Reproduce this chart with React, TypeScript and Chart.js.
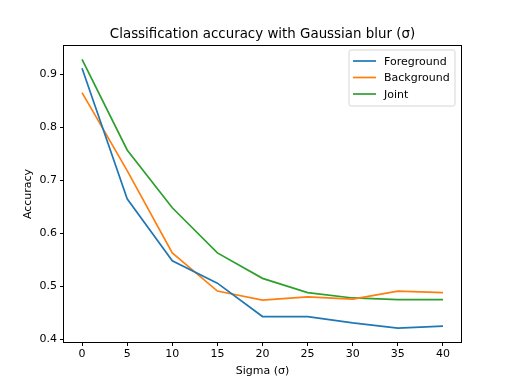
import React, { useEffect, useRef } from "react";
import { Chart, registerables } from "chart.js";

Chart.register(...registerables);

const sigmas = [0, 5, 10, 15, 20, 25, 30, 35, 40];
const foreground = [0.911, 0.665, 0.548, 0.506, 0.443, 0.443, 0.431, 0.421, 0.425];
const background = [0.865, 0.718, 0.563, 0.491, 0.474, 0.48, 0.476, 0.491, 0.488];
const joint = [0.928, 0.757, 0.648, 0.563, 0.515, 0.488, 0.478, 0.475, 0.475];
const xTicks = [0, 5, 10, 15, 20, 25, 30, 35, 40];
const yTicks = [0.4, 0.5, 0.6, 0.7, 0.8, 0.9];
const seriesNames = ["Foreground", "Background", "Joint"];
const seriesColors = ["#1f77b4", "#ff7f0e", "#2ca02c"];
const titleText = "Classification accuracy with Gaussian blur (σ)";
const xLabel = "Sigma (σ)";
const yLabel = "Accuracy";

const FONT = "'DejaVu Sans', sans-serif";

const decorPlugin = {
  id: "decor",
  afterDraw(chart: any) {
    const { ctx, chartArea } = chart;
    const { left, right, top, bottom } = chartArea;
    ctx.save();
    // frame
    ctx.strokeStyle = "#000";
    ctx.lineWidth = 1;
    ctx.strokeRect(Math.round(left) - 0.5, Math.round(top) - 0.5, Math.round(right - left) + 1, Math.round(bottom - top) + 1);
    // title
    ctx.fillStyle = "#000";
    ctx.font = `13.4px ${FONT}`;
    ctx.textAlign = "center";
    ctx.textBaseline = "alphabetic";
    ctx.fillText(titleText, (left + right) / 2, top - 8);
    // x label
    ctx.font = `11px ${FONT}`;
    ctx.fillText(xLabel, (left + right) / 2, 374);
    // y label
    ctx.save();
    ctx.translate(31, (top + bottom) / 2);
    ctx.rotate(-Math.PI / 2);
    ctx.fillText(yLabel, 0, 0);
    ctx.restore();
    // legend
    const lx0 = 349, ly0 = 50, lw = 106, lh = 56;
    ctx.fillStyle = "rgba(255,255,255,0.8)";
    ctx.strokeStyle = "#d6d6d6";
    ctx.lineWidth = 1;
    ctx.beginPath();
    const r = 2;
    ctx.moveTo(lx0 + r, ly0);
    ctx.arcTo(lx0 + lw, ly0, lx0 + lw, ly0 + lh, r);
    ctx.arcTo(lx0 + lw, ly0 + lh, lx0, ly0 + lh, r);
    ctx.arcTo(lx0, ly0 + lh, lx0, ly0, r);
    ctx.arcTo(lx0, ly0, lx0 + lw, ly0, r);
    ctx.closePath();
    ctx.fill();
    ctx.stroke();
    ctx.font = `11px ${FONT}`;
    ctx.textAlign = "left";
    ctx.textBaseline = "middle";
    chart.data.datasets.forEach((ds: any, i: number) => {
      const y = ly0 + 11 + i * 16.5;
      ctx.strokeStyle = ds.borderColor;
      ctx.lineWidth = 1.7;
      ctx.beginPath();
      ctx.moveTo(353, y);
      ctx.lineTo(376, y);
      ctx.stroke();
      ctx.fillStyle = "#000";
      ctx.fillText(ds.label, 384, y + 1);
    });
    ctx.restore();
  },
};

export default function App() {
  const ref = useRef<HTMLCanvasElement>(null);
  useEffect(() => {
    if (!ref.current) return;
    const seriesData = [foreground, background, joint];
    const chart = new Chart(ref.current, {
      type: "line",
      data: {
        datasets: seriesData.map((vals, i) => ({
          label: seriesNames[i],
          data: sigmas.map((x, j) => ({ x, y: vals[j] })),
          borderColor: seriesColors[i],
          backgroundColor: seriesColors[i],
          borderWidth: 1.7,
          pointRadius: 0,
          tension: 0,
          fill: false,
        })),
      },
      options: {
        animation: false,
        responsive: false,
        devicePixelRatio: 1,
        layout: { padding: { top: 46, right: 51, left: 0, bottom: 0 } },
        plugins: { legend: { display: false }, title: { display: false }, tooltip: { enabled: false } },
        scales: {
          x: {
            type: "linear",
            min: -2,
            max: 42,
            afterBuildTicks: (s: any) => { s.ticks = xTicks.map((v) => ({ value: v })); },
            afterFit: (s: any) => { s.height = 42; },
            grid: { drawOnChartArea: false, drawTicks: true, tickLength: 4, color: "#000" },
            border: { display: false },
            ticks: { color: "#000", font: { family: FONT, size: 11 }, padding: 2, maxRotation: 0, autoSkip: false },
          },
          y: {
            type: "linear",
            min: 0.395,
            max: 0.953,
            afterBuildTicks: (s: any) => { s.ticks = yTicks.map((v) => ({ value: v })); },
            afterFit: (s: any) => { s.width = 64; },
            grid: { drawOnChartArea: false, drawTicks: true, tickLength: 4, color: "#000" },
            border: { display: false },
            ticks: { color: "#000", font: { family: FONT, size: 11 }, padding: 3, autoSkip: false, callback: (v: any) => Number(v).toFixed(1) },
          },
        },
      },
      plugins: [decorPlugin],
    });
    return () => chart.destroy();
  }, []);
  return (
    <div style={{ position: "absolute", left: 0, top: 0, width: 512, height: 384, background: "#fff" }}>
      <canvas ref={ref} width={512} height={384} style={{ width: 512, height: 384 }} />
    </div>
  );
}
